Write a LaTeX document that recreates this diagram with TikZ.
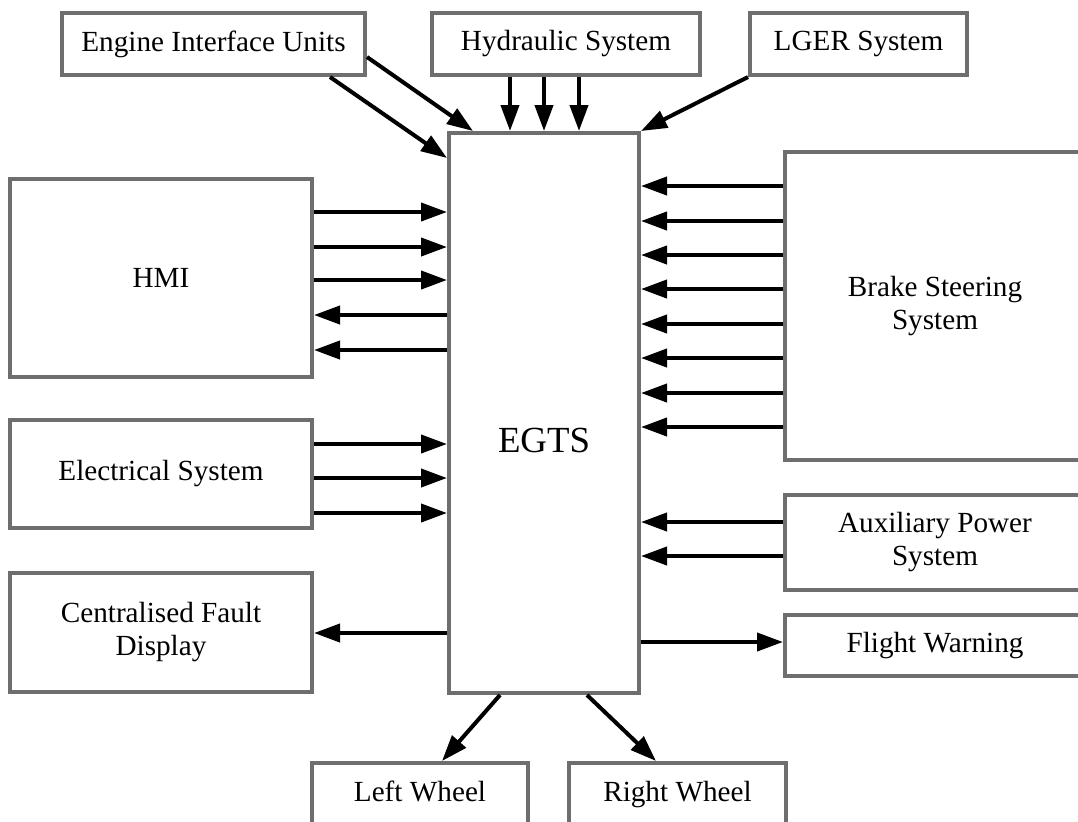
\documentclass[tikz,border=0pt]{standalone}
\usepackage{fontspec}
\setmainfont{Liberation Serif}
\usetikzlibrary{arrows.meta}
\definecolor{boxgray}{RGB}{110,110,110}

\begin{document}
\begin{tikzpicture}[
						x=0.5pt, y=-0.5pt,
						% Define a style for the boxes and the arrows
						box style/.style={rectangle, draw=boxgray, line width=2pt, fill=white, inner sep=0pt, align=center, font=\fontsize{14.6pt}{16.5pt}\selectfont},
						wheel style/.style={box style, text height=0.9em, text depth=0.14em},
						caption style/.style={inner sep=0pt, align=center, font=\fontsize{18.4pt}{20pt}\selectfont},
						arrow style/.style={line width=2pt, -{Triangle[length=13pt,width=9pt]}}
						]
						\useasboundingbox (0,0) rectangle (1078,821);
						\clip (0,0) rectangle (1078,821);
						
						% Place the boxes
						\node[box style, minimum width=151.5pt, minimum height=31pt] (eiu) at (213.5,44) {Engine Interface Units};
						\node[box style, minimum width=134pt, minimum height=31pt] (hyd) at (566,44) {Hydraulic System};
						\node[box style, minimum width=108.5pt, minimum height=31pt] (lger) at (858.5,44) {LGER System};
						\node[box style, minimum width=95pt, minimum height=280pt] (egts) at (544,413) {};
						\node[caption style] (egtstext) at (544,440) {EGTS};
						\node[box style, minimum width=151pt, minimum height=99pt] (hmi) at (161,277.5) {HMI};
						\node[box style, minimum width=151pt, minimum height=54pt] (elec) at (161,474) {Electrical System};
						\node[box style, minimum width=151pt, minimum height=59.5pt] (cfd) at (161,632.5) {Centralised Fault\\Display};
						\node[box style, minimum width=150pt, minimum height=154pt] (brake) at (935,306) {Brake Steering\\System};
						\node[box style, minimum width=150pt, minimum height=47.5pt] (aux) at (935,542.5) {Auxiliary Power\\System};
						\node[box style, minimum width=150pt, minimum height=30.5pt] (fw) at (935,645.5) {Flight Warning};
						\node[wheel style, minimum width=108pt, minimum height=31pt] (lw) at (420,794) {Left Wheel};
						\node[wheel style, minimum width=108.5pt, minimum height=31pt] (rw) at (677.5,794) {Right Wheel};
						
						% --- Draw the arrows ---
						\draw[arrow style] (eiu.east |- 0,57) -- (egts.north -| 473,0);
						\draw[arrow style] (eiu.south -| 330,0) -- (egts.west |- 0,158);
						\foreach \x in {510,544,579}
							\draw[arrow style] (hyd.south -| \x,0) -- (egts.north -| \x,0);
						\draw[arrow style] (lger.south west) -- (egts.north east);
						
						\foreach \y in {212,247,280}
							\draw[arrow style] (hmi.east |- 0,\y) -- (egts.west |- 0,\y);
						\foreach \y in {315,350}
							\draw[arrow style] (egts.west |- 0,\y) -- (hmi.east |- 0,\y);
						\foreach \y in {444,478,513}
							\draw[arrow style] (elec.east |- 0,\y) -- (egts.west |- 0,\y);
						\draw[arrow style] (egts.west |- 0,633) -- (cfd.east |- 0,633);
						
						\foreach \y in {186,221,255,289,324,358,393,427}
							\draw[arrow style] (brake.west |- 0,\y) -- (egts.east |- 0,\y);
						\foreach \y in {522,556}
							\draw[arrow style] (aux.west |- 0,\y) -- (egts.east |- 0,\y);
						\draw[arrow style] (egts.east |- 0,642) -- (fw.west |- 0,642);
						
						\draw[arrow style] (egts.south -| 500,0) -- (lw.north -| 442,0);
						\draw[arrow style] (egts.south -| 587,0) -- (rw.north -| 656,0);
					\end{tikzpicture}
\end{document}
